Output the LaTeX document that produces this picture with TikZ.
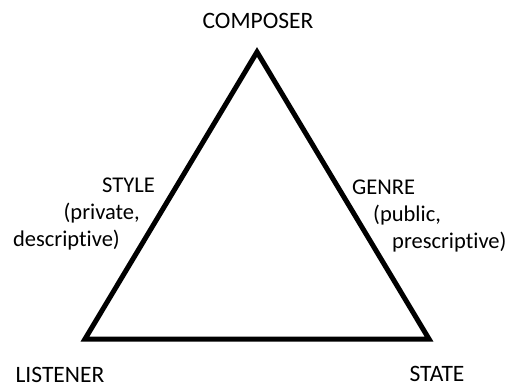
\documentclass[tikz,border=0pt]{standalone}
\usepackage{fontspec}
\setmainfont{Carlito}[Ligatures=NoCommon]
\usetikzlibrary{positioning}

\begin{document}
\begin{tikzpicture}[x=1pt,y=-1pt,
edge/.style={line width=5pt,line join=miter},
role/.style={inner sep=0pt,font=\fontsize{23.5}{28}\selectfont},
aspect/.style={inner sep=0pt,font=\fontsize{22.5}{27}\selectfont}]
\useasboundingbox (0,0) rectangle (509,383);
% corners of the triangle
\coordinate (top) at (257,52);
\coordinate (left) at (85,339);
\coordinate (right) at (429,339);
\draw[edge] (top)--(left)--(right)--cycle;
% the three roles
\node[role] (composer) at (258,21) {COMPOSER};
\node[role] (listener) at (60,375) {LISTENER};
\node[role] (state) at (437,374) {STATE};
% the two sides
\node[aspect,anchor=east] (style) at (155,185) {STYLE};
\node[aspect,anchor=east] (private) at (140,213) {(private,};
\node[aspect,anchor=east] (descr) at (120,240) {descriptive)};
\node[aspect,anchor=west] (genre) at (352,187) {GENRE};
\node[aspect,anchor=west] (public) at (373,215) {(public,};
\node[aspect,anchor=west] (prescr) at (392,242) {prescriptive)};
\end{tikzpicture}
\end{document}
